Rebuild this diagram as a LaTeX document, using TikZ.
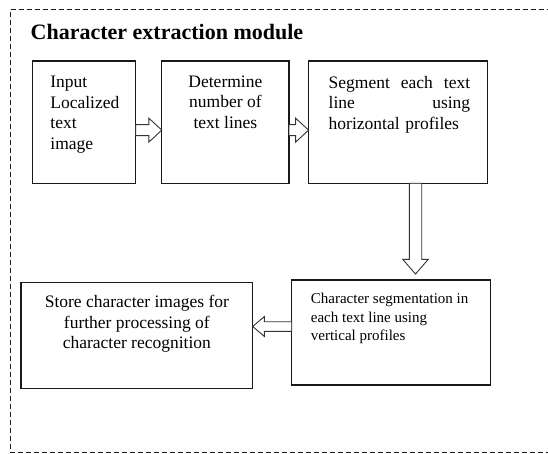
\documentclass[tikz,border=0pt]{standalone}
\usepackage{fontspec}
\setmainfont{Liberation Serif}
\usetikzlibrary{positioning}
\usetikzlibrary{calc}

\tikzset{
  stage/.style={draw=black!90, line width=1.3pt, inner sep=0pt, outer sep=0pt},
  stagetext/.style={inner sep=0pt, font=\fontsize{17.5}{20.6}\selectfont},
  frame/.style={draw=black!90, line width=1.5pt, dash pattern=on 5pt off 3pt},
  % open block arrow: shaft half width, head half width, head length
  hollow/.style n args={3}{draw=black!80, line width=0.9pt, fill=white,
    to path={let \p1=(\tikztostart), \p2=(\tikztotarget),
      \n1={atan2(\y2-\y1,\x2-\x1)}, \n2={veclen(\x2-\x1,\y2-\y1)} in
      [shift={(\p1)}, rotate=\n1]
      (0pt,-#1) -- (\n2-#3,-#1) -- (\n2-#3,-#2) -- (\n2,0pt)
      -- (\n2-#3,#2) -- (\n2-#3,#1) -- (0pt,#1) -- cycle}},
}

\begin{document}
\begin{tikzpicture}[x=1pt, y=-1pt]
  \useasboundingbox (0,0) rectangle (548,454);

  \draw[frame] (600,9.5) -- (10.5,9.5) -- (10.5,452.5) -- (600,452.5);

  \node[anchor=base west, inner sep=0pt, font=\fontsize{22}{26}\selectfont\bfseries] (title) at (30.5,40) {Character extraction module};

  % top row
  \coordinate (base) at (32.2,61);
  \node[stage, minimum width=103.4pt, minimum height=122.3pt, anchor=north west] (input) at (base) {};
  \node[stage, minimum width=127.2pt, minimum height=122.3pt, right=26.2pt of input] (count) {};
  \node[stage, minimum width=179pt, minimum height=122.3pt, right=19.6pt of count] (rows) {};

  % bottom row
  \node[stage, minimum width=199pt, minimum height=105pt, anchor=north west] (chars) at (291.7,280) {};
  \node[stage, minimum width=231.7pt, minimum height=106pt, anchor=north west] (store) at (21,282.3) {};

  \node[stagetext, align=left, below right=15pt and 18pt of input.north west] (inputtext) {Input\\Localized\\text\\image};
  \node[stagetext, align=center, below=14.4pt of count.north] (counttext) {Determine\\number of\\text lines};
  \node[stagetext, text width=141.5pt, align=left, below right=14.7pt and 19.9pt of rows.north west] (rowstext) {Segment \hfill each \hfill text\\line \hfill using\\horizontal profiles};
  \node[stagetext, font=\fontsize{15}{18.3}\selectfont, align=left, below right=13.1pt and 19pt of chars.north west] (charstext) {Character segmentation in\\each text line using\\vertical profiles};
  \node[stagetext, align=center, below=12.7pt of store.north] (storetext) {Store character images for\\further processing of\\character recognition};

  % arrows
  \draw[hollow={5.5pt}{12pt}{13pt}] ([yshift=-8pt]input.east) to ([yshift=-8pt]count.west);
  \draw[hollow={5.5pt}{12pt}{13pt}] ([yshift=-8pt]count.east) to ([yshift=-8pt]rows.west);
  \coordinate (drop) at ([xshift=17.4pt]rows.south);
  \draw[hollow={6.2pt}{12.8pt}{14.7pt}] (drop) to ([yshift=6pt]drop |- chars.north);
  \coordinate (back) at ([yshift=6pt]chars.west);
  \draw[hollow={4.8pt}{10pt}{11.7pt}] (back) to (back -| store.east);
\end{tikzpicture}
\end{document}
